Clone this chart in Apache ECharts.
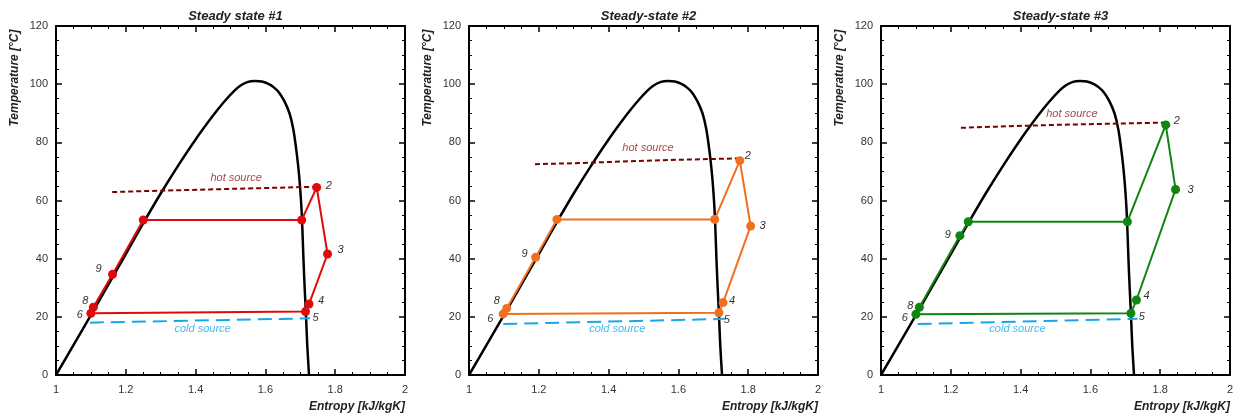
<!DOCTYPE html>
<html><head><meta charset="utf-8">
<script src="https://cdn.jsdelivr.net/npm/echarts@6/dist/echarts.min.js"></script>
<style>html,body{margin:0;padding:0;background:#fff}#c{width:1239px;height:417px}</style>
</head><body><div id="c"></div>
<script>
// ---- data ----
const titles = ['Steady state #1', 'Steady-state #2', 'Steady-state #3'];
const xTicks = [1, 1.2, 1.4, 1.6, 1.8, 2];
const yTicks = [0, 20, 40, 60, 80, 100, 120];
// saturation dome
const sDome = [1.000,1.050,1.100,1.150,1.200,1.250,1.300,1.350,1.400,1.450,1.480,1.510,1.530,1.550,1.570,1.590,1.610,1.625,1.640,1.655,1.669,1.680,1.690,1.697,1.702,1.705,1.709,1.7125,1.7165,1.720,1.725];
const tDome = [0,10.3,20.6,31.1,41.6,52.2,62.4,72.0,81.0,89.2,93.7,97.6,99.6,100.8,101.1,100.9,100.0,98.8,97.0,94.0,90.0,84.5,76.0,68.0,60.0,53.3,40.0,30.0,20.0,10.0,0];
// cycle state points, order: 2,3,4,5,6,8,9,a,b
const pointNames = ['2','3','4','5','6','8','9','',''];
const s1 = [1.747,1.778,1.725,1.715,1.100,1.107,1.162,1.250,1.704];
const t1 = [64.5,41.6,24.4,21.8,21.2,23.3,34.6,53.3,53.3];
const s2 = [1.776,1.807,1.728,1.716,1.098,1.108,1.191,1.252,1.704];
const t2 = [73.7,51.2,24.9,21.4,21.0,22.9,40.5,53.5,53.5];
const s3 = [1.816,1.844,1.732,1.716,1.100,1.110,1.226,1.250,1.706];
const t3 = [86.0,63.8,25.8,21.2,20.9,23.3,47.9,52.7,52.7];
// hot sources
const sHot1 = [1.161,1.24,1.44,1.70,1.747];
const tHot1 = [62.9,63.2,63.8,64.6,64.7];
const sHot2 = [1.189,1.30,1.44,1.60,1.776];
const tHot2 = [72.5,72.8,73.4,74.0,74.5];
const sHot3 = [1.229,1.33,1.50,1.66,1.816];
const tHot3 = [85.0,85.4,86.0,86.4,86.8];
// cold sources
const sCold1 = [1.097,1.728];
const tCold1 = [18.0,19.5];
const sCold2 = [1.098,1.733];
const tCold2 = [17.5,19.3];
const sCold3 = [1.105,1.735];
const tCold3 = [17.5,19.3];
// source label anchors [s, T]
const hotLabel = [[1.516,67.7],[1.513,78.0],[1.547,89.6]];
const coldLabel = [[1.420,16.0],[1.425,15.7],[1.391,15.7]];

// ---- styling ----
const colors = ['#e00a0a', '#f07020', '#0f860f'];
const labelOffsets = [
  [[12,-1],[13,-4],[12,-3],[10,6],[-11,2],[-8,-6],[-14,-5],[0,0],[0,0]],
  [[8,-5],[12,0],[9,-2],[8,7],[-13,5],[-10,-7],[-11,-3],[0,0],[0,0]],
  [[11,-4],[15,0],[10,-4],[11,4],[-11,4],[-9,-1],[-12,-1],[0,0],[0,0]]
];
const FONT = '"Liberation Sans", Arial, sans-serif';
const gridLefts = [56, 469, 881];
const gridW = 349, gridTop = 26, gridH = 349;

const cycles = [[s1,t1],[s2,t2],[s3,t3]];
const hots = [[sHot1,tHot1],[sHot2,tHot2],[sHot3,tHot3]];
const colds = [[sCold1,tCold1],[sCold2,tCold2],[sCold3,tCold3]];
const zip = (a,b) => a.map((v,i)=>[v,b[i]]);

const grids = [], xAxes = [], yAxes = [], series = [], graphics = [], titleArr = [];
for (let i = 0; i < 3; i++) {
  grids.push({left: gridLefts[i], top: gridTop, width: gridW, height: gridH});
  const common = {
    type: 'value', gridIndex: i,
    axisLine: {show: true, onZero: false, lineStyle: {color: '#000', width: 2}},
    axisTick: {show: true, inside: true, length: 6, lineStyle: {color: '#000', width: 1.5}},
    minorTick: {show: true, splitNumber: 4, length: 3, lineStyle: {color: '#000', width: 1}},
    splitLine: {show: false}
  };
  xAxes.push(Object.assign({}, common, {position: 'bottom', min: xTicks[0], max: xTicks[xTicks.length-1], interval: 0.2,
    axisLabel: {color: '#333', fontSize: 11, fontFamily: FONT, margin: 9}}));
  xAxes.push(Object.assign({}, common, {position: 'top', min: xTicks[0], max: xTicks[xTicks.length-1], interval: 0.2,
    axisLabel: {show: false}}));
  yAxes.push(Object.assign({}, common, {position: 'left', min: yTicks[0], max: yTicks[yTicks.length-1], interval: 20,
    axisLabel: {color: '#333', fontSize: 11, fontFamily: FONT, margin: 8}}));
  yAxes.push(Object.assign({}, common, {position: 'right', min: yTicks[0], max: yTicks[yTicks.length-1], interval: 20,
    axisLabel: {show: false}}));

  const xi = 2*i, yi = 2*i;
  // dome
  series.push({type: 'line', xAxisIndex: xi, yAxisIndex: yi, data: zip(sDome, tDome), smooth: 0.3,
    showSymbol: false, lineStyle: {color: '#000', width: 2.5}, z: 2});
  // hot source
  series.push({type: 'line', xAxisIndex: xi, yAxisIndex: yi, data: zip(hots[i][0], hots[i][1]),
    showSymbol: false, lineStyle: {color: '#7a0000', width: 2, type: [5,3]}, z: 3});
  // cold source
  series.push({type: 'line', xAxisIndex: xi, yAxisIndex: yi, data: zip(colds[i][0], colds[i][1]),
    showSymbol: false, lineStyle: {color: '#1aa6e6', width: 2, type: [14,7]}, z: 3});
  // cycle
  const [cs, ct] = cycles[i];
  const cdata = cs.map((s, k) => ({
    value: [s, ct[k]],
    label: {show: pointNames[k] !== '', formatter: pointNames[k], position: 'inside',
      offset: labelOffsets[i][k], color: '#333', fontSize: 11, fontStyle: 'italic', fontFamily: FONT}
  }));
  cdata.push({value: [cs[0], ct[0]], symbol: 'none', label: {show: false}});
  series.push({type: 'line', xAxisIndex: xi, yAxisIndex: yi, data: cdata, symbol: 'circle', symbolSize: 9,
    showAllSymbol: true, itemStyle: {color: colors[i]}, lineStyle: {color: colors[i], width: 2}, z: 5});
  // source labels
  series.push({type: 'scatter', xAxisIndex: xi, yAxisIndex: yi, symbolSize: 0, silent: true,
    data: [{value: hotLabel[i], label: {formatter: 'hot source', color: '#8b1010'}},
           {value: coldLabel[i], label: {formatter: 'cold source', color: '#1aa6e6'}}],
    label: {show: true, position: 'inside', fontSize: 11, fontStyle: 'italic', fontFamily: FONT}, z: 6});

  titleArr.push({text: titles[i], left: gridLefts[i] + gridW/2, top: 5, textAlign: 'center',
    textStyle: {fontSize: 13, fontWeight: 'bold', fontStyle: 'italic', color: '#222', fontFamily: FONT}});
  graphics.push({type: 'text', x: gridLefts[i] - 41, y: 78, rotation: Math.PI/2,
    style: {text: 'Temperature [°C]', textAlign: 'center', textVerticalAlign: 'middle',
      font: 'italic bold 12px ' + FONT, fill: '#222'}});
  graphics.push({type: 'text', x: gridLefts[i] + gridW, y: 407,
    style: {text: 'Entropy [kJ/kgK]', textAlign: 'right', textVerticalAlign: 'middle',
      font: 'italic bold 12px ' + FONT, fill: '#222'}});
}

const chart = echarts.init(document.getElementById('c'));
chart.setOption({
  animation: false,
  backgroundColor: '#fff',
  title: titleArr,
  grid: grids, xAxis: xAxes, yAxis: yAxes, series: series, graphic: graphics
});
</script></body></html>
